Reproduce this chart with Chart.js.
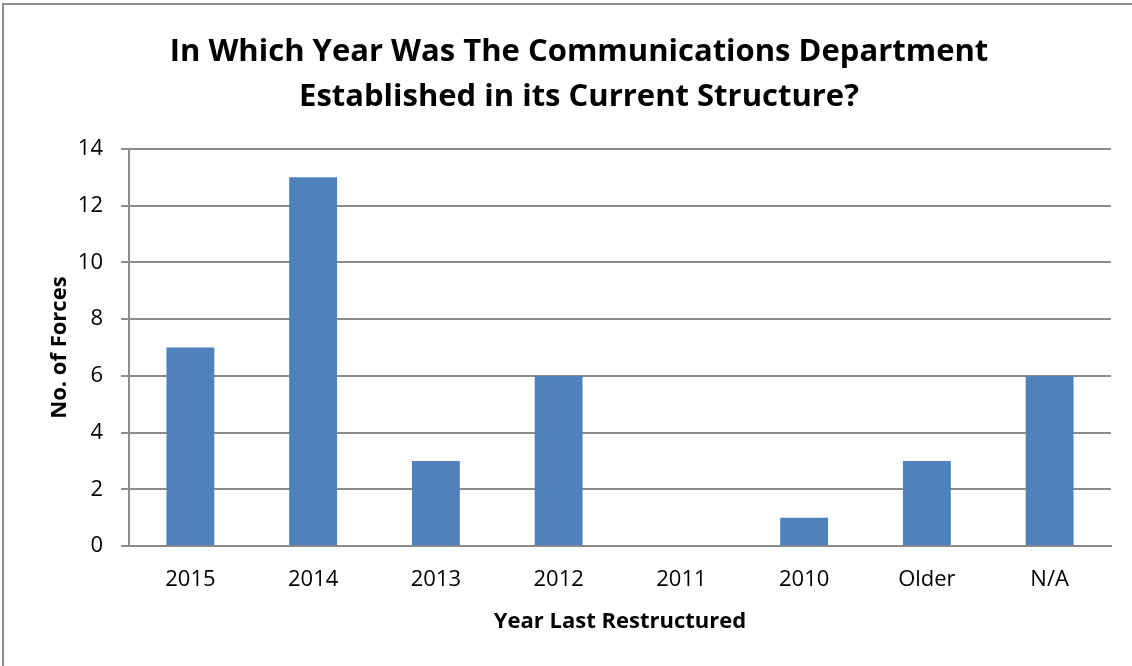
<!DOCTYPE html>
<html>
<head>
<meta charset="utf-8">
<script src="https://cdn.jsdelivr.net/npm/chart.js@4.4.0/dist/chart.umd.min.js"></script>
<style>
  html, body { margin: 0; padding: 0; background: #fff; }
  #frame {
    position: absolute; left: 2px; top: 3px; width: 1200px; height: 800px;
    border-left: 2px solid #8c8c8c; border-top: 2px solid #8c8c8c;
  }
  #wrap { position: absolute; left: 0; top: 0; width: 1132px; height: 666px; }
</style>
</head>
<body>
<div id="frame"></div>
<div id="wrap"><canvas id="yearChart" width="1132" height="666"></canvas></div>
<script>
var years = ['2015', '2014', '2013', '2012', '2011', '2010', 'Older', 'N/A'];
var forces = [7, 13, 3, 6, 0, 1, 3, 6];
var yTicks = [0, 2, 4, 6, 8, 10, 12, 14];

var fontFamily = "'Open Sans', 'Liberation Sans', sans-serif";
var gridColor = '#8c8c8c';

var ctx = document.getElementById('yearChart').getContext('2d');
new Chart(ctx, {
    type: 'bar',
    data: {
        labels: years,
        datasets: [{
            label: 'No. of Forces',
            data: forces,
            backgroundColor: '#4f81bd',
            borderWidth: 0,
            categoryPercentage: 1.0,
            barPercentage: 0.39
        }]
    },
    options: {
        responsive: false,
        animation: false,
        layout: { padding: { left: 47, right: 21, top: 30, bottom: 31 } },
        plugins: {
            legend: { display: false },
            tooltip: { enabled: false },
            title: {
                display: true,
                text: ['In Which Year Was The Communications Department', 'Established in its Current Structure?'],
                color: '#000',
                font: { family: fontFamily, size: 31, weight: 'bold', lineHeight: 1.45 },
                padding: { top: 0, bottom: 29 }
            }
        },
        scales: {
            x: {
                grid: { display: false, drawTicks: false },
                border: { display: true, color: gridColor, width: 2 },
                ticks: { color: '#000', font: { family: fontFamily, size: 22 }, padding: 20 },
                title: {
                    display: true,
                    text: 'Year Last Restructured',
                    color: '#000',
                    font: { family: fontFamily, size: 22, weight: 'bold' },
                    padding: { top: -4, bottom: 0 }
                }
            },
            y: {
                min: 0,
                max: 14,
                afterBuildTicks: function(scale) {
                    scale.ticks = yTicks.map(function(v) { return { value: v }; });
                },
                afterFit: function(scale) { scale.width = 82; },
                grid: { color: gridColor, lineWidth: 2, tickLength: 8 },
                border: { display: true, color: gridColor, width: 2 },
                ticks: { color: '#000', font: { family: fontFamily, size: 22 }, padding: 18 },
                title: {
                    display: true,
                    text: 'No. of Forces',
                    color: '#000',
                    font: { family: fontFamily, size: 22, weight: 'bold' },
                    padding: { top: 0, bottom: 0 }
                }
            }
        }
    }
});
</script>
</body>
</html>
